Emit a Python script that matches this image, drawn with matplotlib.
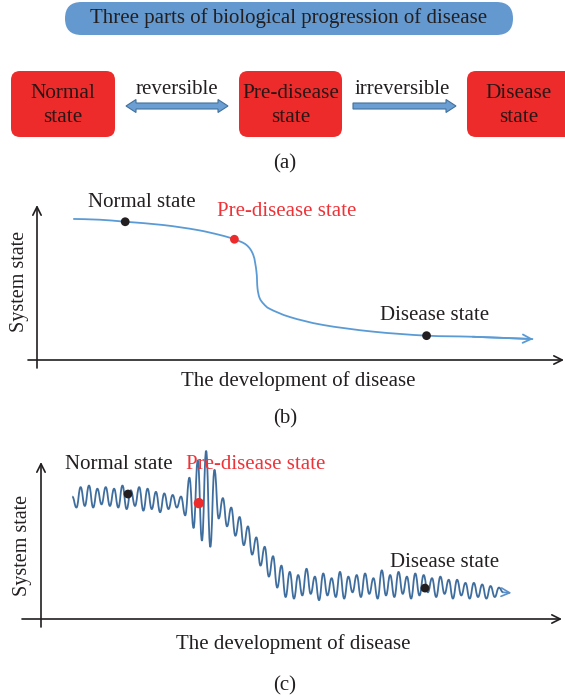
import numpy as np
import matplotlib
matplotlib.use("Agg")
import matplotlib.pyplot as plt
from matplotlib.patches import FancyBboxPatch, Polygon, PathPatch
from matplotlib.path import Path

plt.rcParams['font.family'] = ['Liberation Serif', 'DejaVu Serif']

# ---------------- data ----------------
title_text = "Three parts of biological progression of disease"
state_names = ["Normal\nstate", "Pre-disease\nstate", "Disease\nstate"]
transition_labels = ["reversible", "irreversible"]
point_labels = ["Normal state", "Pre-disease state", "Disease state"]
x_label = "The development of disease"
y_label = "System state"
panel_tags = ["(a)", "(b)", "(c)"]

# panel (b): smooth transition curve (development 0-100, state 0-100)
b_dev = [6.9, 12.0, 16.8, 24.0, 30.5, 34.9, 37.6, 39.9, 41.2, 41.8, 42.0,
         42.4, 43.2, 44.4, 48.2, 54.5, 64.0, 74.2, 83.0, 94.5]
b_state = [91.0, 90.5, 89.2, 87.1, 83.9, 80.6, 77.9, 74.2, 67.7, 57.0, 46.3,
           40.0, 36.1, 32.9, 27.7, 22.6, 18.3, 15.7, 15.0, 13.5]
b_marks_dev = [16.8, 37.6, 74.2]
b_marks_state = [89.2, 77.9, 15.7]

# panel (c): fluctuating trajectory, successive extremes of the oscillation
c_state = [78, 71, 84, 72, 85, 71, 83, 73, 84, 72, 83, 71, 85, 70, 82, 72,
           84, 69, 83, 70, 81, 68, 80, 70, 79, 71, 78,
           66, 90, 58, 101, 50, 107, 46, 95,
           64, 77, 59, 71, 53, 65, 47, 59, 41, 52, 34, 46, 27, 40, 20, 34,
           14, 30, 13, 28, 15, 32, 16, 27, 12, 29, 15, 26, 14, 30, 13, 27,
           17, 28, 14, 29, 16, 26, 13, 31, 15, 28, 14, 30, 16, 27, 13, 29,
           15, 28, 17, 26, 14, 27, 16, 25, 13, 25, 15, 23, 13, 23, 14, 22,
           13, 21, 14, 20, 17]
c_dev_start, c_dev_end = 6.0, 88.7
c_arrow_tip = (90.3, 16.6)
c_marks_dev = [16.7, 30.3, 73.7]
c_marks_state = [79.6, 73.8, 19.7]

# ---------------- style ----------------
W, H = 565, 699
dark = '#231F20'
red = '#EE2B2B'
red_text = '#EE3338'
pill_blue = '#6499CF'
arrow_fill = '#6B9FD4'
arrow_edge = '#41719C'
curve_b = '#5B9BD5'
curve_c = '#3F6E9E'
fs = 15

fig = plt.figure(figsize=(W / 100, H / 100), dpi=100)
ov = fig.add_axes([0, 0, 1, 1])
ov.set_xlim(0, W)
ov.set_ylim(H, 0)
ov.axis('off')


def px_axes(x0, x1, ytop, ybot):
    ax = fig.add_axes([x0 / W, 1 - ybot / H, (x1 - x0) / W, (ybot - ytop) / H])
    ax.set_xlim(0, 100)
    ax.set_ylim(0, 100)
    ax.axis('off')
    return ax


# ---------------- panel (a) ----------------
ov.add_patch(FancyBboxPatch((65, 2), 448, 33,
                            boxstyle="round,pad=0,rounding_size=16.5",
                            fc=pill_blue, ec='none'))
ov.text(289, 18, title_text, ha='center', va='center', fontsize=15, color=dark)

box_x = [11, 239, 467]
box_w = [104, 103, 110]
for bx, bw, name in zip(box_x, box_w, state_names):
    ov.add_patch(FancyBboxPatch((bx, 71), bw, 66,
                                boxstyle="round,pad=0,rounding_size=9",
                                fc=red, ec='none'))
    line1, line2 = name.split("\n")
    cx = bx + 52
    ov.text(cx, 94, line1, ha='center', va='center', fontsize=15.3, color='#2A1616')
    ov.text(cx, 117, line2, ha='center', va='center', fontsize=15.3, color='#2A1616')


def block_arrow(x0, x1, y, double):
    t, hw, hl = 3.0, 6.5, 10.0
    if double:
        pts = [(x0, y), (x0 + hl, y - hw), (x0 + hl, y - t), (x1 - hl, y - t),
               (x1 - hl, y - hw), (x1, y), (x1 - hl, y + hw), (x1 - hl, y + t),
               (x0 + hl, y + t), (x0 + hl, y + hw)]
    else:
        pts = [(x0, y - t), (x1 - hl, y - t), (x1 - hl, y - hw), (x1, y),
               (x1 - hl, y + hw), (x1 - hl, y + t), (x0, y + t)]
    ov.add_patch(Polygon(pts, closed=True, fc=arrow_fill, ec=arrow_edge, lw=0.8))


block_arrow(126, 228, 106, True)
block_arrow(353, 456, 106, False)
ov.text(177, 90, transition_labels[0], ha='center', va='center', fontsize=fs, color=dark)
ov.text(402, 90, transition_labels[1], ha='center', va='center', fontsize=fs, color=dark)
ov.text(285, 164, panel_tags[0], ha='center', va='center', fontsize=fs, color=dark)


def axis_arrows(x_axis_y, y_axis_x, x_from, x_to, y_from, y_to):
    ap = dict(arrowstyle='->', color=dark, lw=1.2, shrinkA=0, shrinkB=0,
              mutation_scale=15)
    ov.annotate('', xy=(x_to, x_axis_y), xytext=(x_from, x_axis_y), arrowprops=ap)
    ov.annotate('', xy=(y_axis_x, y_to), xytext=(y_axis_x, y_from), arrowprops=ap)


# ---------------- panel (b) ----------------
axis_arrows(360, 37, 28, 564, 368, 205)
ax_b = px_axes(37, 562, 205, 360)

P = np.column_stack([b_dev, b_state])
verts = [tuple(P[0])]
codes = [Path.MOVETO]
n = len(P)
for i in range(n - 1):
    p0 = P[i - 1] if i > 0 else P[i]
    p1, p2 = P[i], P[i + 1]
    p3 = P[i + 2] if i + 2 < n else P[i + 1]
    c1 = p1 + (p2 - p0) / 6.0
    c2 = p2 - (p3 - p1) / 6.0
    verts += [tuple(c1), tuple(c2), tuple(p2)]
    codes += [Path.CURVE4] * 3
ax_b.add_patch(PathPatch(Path(verts, codes), fc='none', ec=curve_b, lw=1.3,
                         clip_on=False))
ax_b.annotate('', xy=(b_dev[-1], b_state[-1]), xytext=(b_dev[-2], b_state[-2]),
              arrowprops=dict(arrowstyle='->', color=curve_b, lw=1.3,
                              shrinkA=0, shrinkB=0, mutation_scale=15),
              annotation_clip=False)
ax_b.scatter(b_marks_dev, b_marks_state, s=40, c=[dark, red, dark], zorder=5,
             clip_on=False, edgecolors='none')
ax_b.text(20.0, 101.9, point_labels[0], ha='center', va='center', fontsize=fs, color=dark)
ax_b.text(47.6, 96.1, point_labels[1], ha='center', va='center', fontsize=fs, color=red_text)
ax_b.text(75.8, 28.4, point_labels[2], ha='center', va='center', fontsize=fs, color=dark)
ov.text(20, 281, y_label, ha='center', va='center', fontsize=14.5, rotation=90, color=dark)
ov.text(298, 381, x_label, ha='center', va='center', fontsize=fs, color=dark)
ov.text(285, 419, panel_tags[1], ha='center', va='center', fontsize=fs, color=dark)

# ---------------- panel (c) ----------------
axis_arrows(619, 41, 22, 562, 627, 462)
ax_c = px_axes(41, 562, 462, 619)

cx = np.linspace(c_dev_start, c_dev_end, len(c_state))
cy = np.array(c_state, dtype=float)
verts = [(cx[0], cy[0])]
codes = [Path.MOVETO]
for i in range(len(cx) - 1):
    dx = cx[i + 1] - cx[i]
    verts += [(cx[i] + 0.45 * dx, cy[i]), (cx[i + 1] - 0.45 * dx, cy[i + 1]),
              (cx[i + 1], cy[i + 1])]
    codes += [Path.CURVE4] * 3
ax_c.add_patch(PathPatch(Path(verts, codes), fc='none', ec=curve_c, lw=1.3,
                         clip_on=False, joinstyle='round'))
ax_c.annotate('', xy=c_arrow_tip, xytext=(cx[-1], cy[-1]),
              arrowprops=dict(arrowstyle='->', color='#5B8FC8', lw=1.2,
                              shrinkA=0, shrinkB=0, mutation_scale=15),
              annotation_clip=False)
ax_c.scatter(c_marks_dev, c_marks_state, s=[40, 55, 40], c=[dark, red, dark],
             zorder=5, clip_on=False, edgecolors='none')
ax_c.text(15.0, 98.7, point_labels[0], ha='center', va='center', fontsize=fs, color=dark)
ax_c.text(41.3, 98.7, point_labels[1], ha='center', va='center', fontsize=fs, color=red_text)
ax_c.text(77.5, 35.7, point_labels[2], ha='center', va='center', fontsize=fs, color=dark)
ov.text(23, 545, y_label, ha='center', va='center', fontsize=14.5, rotation=90, color=dark)
ov.text(293, 644, x_label, ha='center', va='center', fontsize=fs, color=dark)
ov.text(285, 686, panel_tags[2], ha='center', va='center', fontsize=fs, color=dark)

fig.savefig("out.png", dpi=100)
